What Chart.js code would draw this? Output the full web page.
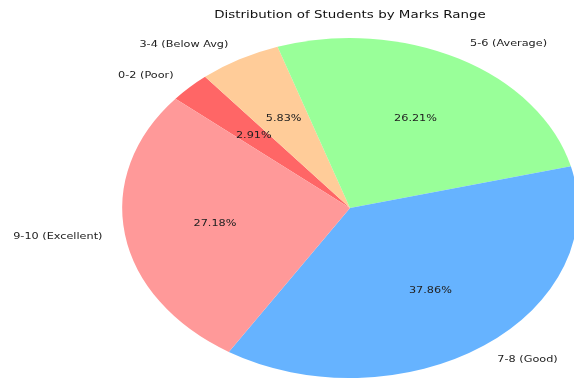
<!DOCTYPE html>
<html>
<head>
<meta charset="utf-8">
<script src="https://cdn.jsdelivr.net/npm/chart.js@4/dist/chart.umd.min.js"></script>
<style>
  html, body { margin: 0; padding: 0; background: #fff; }
  canvas { display: block; }
</style>
</head>
<body>
<canvas id="myChart" width="574" height="378"></canvas>
<script>
// data (103 students)
const labels = ["0-2 (Poor)", "3-4 (Below Avg)", "5-6 (Average)", "7-8 (Good)", "9-10 (Excellent)"];
const counts = [3, 6, 27, 39, 28];
const sliceColors = ["#ff6666", "#ffcc99", "#99ff99", "#66b3ff", "#ff9999"];
const chartTitle = "Distribution of Students by Marks Range";

// the source image is stretched sideways: pie is an ellipse, text is wide
const pieStretch = 1.34;
const textStretch = 1.2;

function wideText(ctx, txt, x, y, align) {
  ctx.save();
  ctx.translate(x, y);
  ctx.scale(textStretch, 1);
  ctx.textAlign = align;
  ctx.textBaseline = "middle";
  ctx.fillText(txt, 0, 0);
  ctx.restore();
}

const ellipsePie = {
  id: "ellipsePie",
  beforeDatasetsDraw(chart) {
    const arc = chart.getDatasetMeta(0).data[0];
    const ctx = chart.ctx;
    ctx.save();
    ctx.translate(arc.x, arc.y);
    ctx.scale(pieStretch, 1);
    ctx.translate(-arc.x, -arc.y);
  },
  afterDatasetsDraw(chart) {
    const ctx = chart.ctx;
    ctx.restore();
    const total = counts.reduce((a, b) => a + b, 0);
    ctx.save();
    ctx.fillStyle = "#222";
    chart.getDatasetMeta(0).data.forEach((arc, i) => {
      const mid = (arc.startAngle + arc.endAngle) / 2;
      const r = arc.outerRadius;
      const c = Math.cos(mid), s = Math.sin(mid);
      // outer label
      ctx.font = "9.4px 'DejaVu Sans'";
      wideText(ctx, labels[i], arc.x + c * r * 1.1 * pieStretch, arc.y + s * r * 1.1,
               c < 0 ? "right" : "left");
      // percentage
      const pct = (counts[i] / total * 100).toFixed(2) + "%";
      wideText(ctx, pct, arc.x + c * r * 0.6 * pieStretch, arc.y + s * r * 0.6, "center");
    });
    // title
    ctx.font = "11.2px 'DejaVu Sans'";
    ctx.fillStyle = "#111";
    wideText(ctx, chartTitle, chart.getDatasetMeta(0).data[0].x, 15, "center");
    ctx.restore();
  }
};

var ctx = document.getElementById("myChart");
var myPie = new Chart(ctx, {
  type: "pie",
  data: {
    labels: labels,
    datasets: [{
      data: counts,
      backgroundColor: sliceColors,
      borderWidth: 0,
      clip: false
    }]
  },
  options: {
    responsive: false,
    animation: false,
    devicePixelRatio: 1,
    rotation: -50,
    layout: { padding: { top: 38, bottom: 0, left: 180, right: 54 } },
    plugins: {
      legend: { display: false },
      tooltip: { enabled: false },
      title: { display: false }
    }
  },
  plugins: [ellipsePie]
});
</script>
</body>
</html>
